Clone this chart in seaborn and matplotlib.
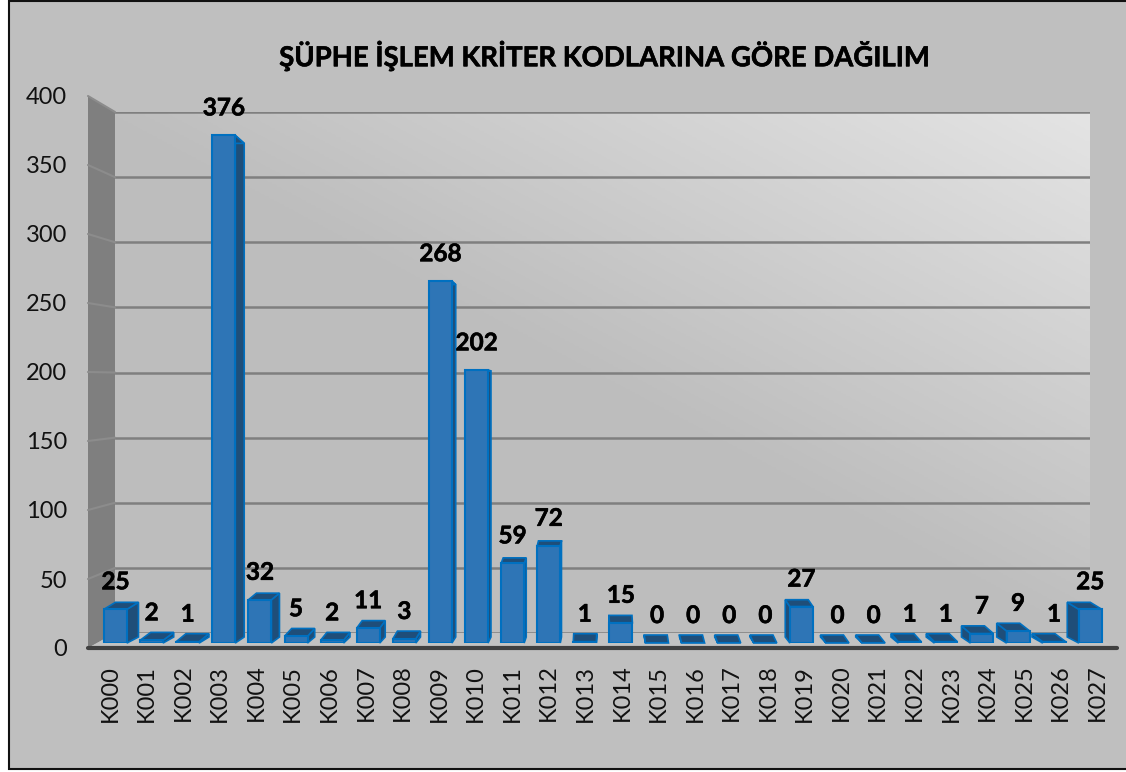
import numpy as np
import pandas as pd
import matplotlib
matplotlib.use("Agg")
import matplotlib.pyplot as plt
import matplotlib.patheffects as pe
import seaborn as sns
from matplotlib.patches import Polygon, Rectangle
from matplotlib.lines import Line2D

codes = ["K%03d" % i for i in range(28)]
counts = [25, 2, 1, 376, 32, 5, 2, 11, 3, 268, 202, 59, 72, 1, 15, 0, 0, 0, 0, 27, 0, 0, 1, 1, 7, 9, 1, 25]
y_ticks = [0, 50, 100, 150, 200, 250, 300, 350, 400]
title = "ŞÜPHE İŞLEM KRİTER KODLARINA GÖRE DAĞILIM"

W, H = 1126, 772

sns.set_theme(style="white")
plt.rcParams["font.family"] = ["Lato", "DejaVu Sans"]

FACE = "#2E75B6"
SIDE = "#1F4E79"
EDGE = "#0070C0"
INK = "#111111"
THICK = [pe.withStroke(linewidth=0.4, foreground="black")]


def box(left, top, right, bottom):
    # pixels from the top left of the image -> figure fractions
    return [left / W, 1 - bottom / H, (right - left) / W, (bottom - top) / H]


fig = plt.figure(figsize=(W / 100, H / 100), dpi=100, facecolor="white")

# chart frame, its right edge runs off the image
fig.add_artist(Rectangle((9 / W, 1 - 769 / H), 1130 / W, 768 / H, transform=fig.transFigure,
                         facecolor="#BFBFBF", edgecolor="#111111", linewidth=1.5))

# back wall, with the light corner at top right
wall = fig.add_axes(box(115, 112, 1090, 633), zorder=1)
xx, yy = np.meshgrid(np.linspace(0, 1, 200), np.linspace(0, 1, 200))
wall.imshow((xx + yy) / 2, extent=(0, 1, 0, 400), origin="lower", aspect="auto",
            cmap=matplotlib.colors.LinearSegmentedColormap.from_list("wall", ["#BDBDBD", "#BEBEBE", "#E4E4E4"]))
wall.set_ylim(0, 400)
wall.set_yticks(y_ticks)
wall.set_xticks([])
wall.set_yticklabels([])
wall.grid(axis="y", color="#7F7F7F", linewidth=1.8)
wall.tick_params(length=0)
sns.despine(ax=wall, left=True, bottom=True, right=True, top=True)

# front plane: only carries the axis labels
front = fig.add_axes(box(88, 96, 1117, 648), zorder=2)
front.patch.set_alpha(0)
front.set_ylim(0, 400)
front.set_xlim(-0.6, 27.54)
front.set_yticks(y_ticks)
front.set_xticks(range(len(codes)))
front.set_xticklabels(codes, rotation=90, fontsize=17, color=INK)
front.tick_params(axis="y", labelsize=17, labelcolor=INK, length=0, pad=15)
front.tick_params(axis="x", length=0, pad=12)
sns.despine(ax=front, left=True, bottom=True, right=True, top=True)


def to_fig(ax, x, y):
    return fig.transFigure.inverted().transform(ax.transData.transform((x, y)))


# side wall and floor between the front plane and the back wall
fl, fb = to_fig(front, -0.6, 0)
fr = to_fig(front, 27.54, 0)[0]
ft = to_fig(front, -0.6, 400)[1]
bl, bb = to_fig(wall, 0, 0)
br = to_fig(wall, 1, 0)[0]
bt = to_fig(wall, 0, 400)[1]
fig.add_artist(Polygon([(fl, fb), (fl, ft), (bl, bt), (bl, bb)], transform=fig.transFigure,
                       facecolor="#7F7F7F", edgecolor="none", zorder=1.5))
fig.add_artist(Polygon([(fl, fb), (bl, bb), (br, bb), (fr, fb)], transform=fig.transFigure,
                       facecolor="#C2C2C2", edgecolor="none", zorder=1.5))
for v in y_ticks[1:]:
    a = to_fig(front, -0.6, v)
    b = to_fig(wall, 0, v)
    fig.add_artist(Line2D([a[0], b[0]], [a[1], b[1]], color="#8C8C8C", linewidth=1.5, zorder=1.6))
fig.add_artist(Line2D([fl, fr], [fb, fb], color="#404040", linewidth=3, zorder=1.7))

# bars sit a bit behind the front plane, so 1.35 px per unit from y=643
px_x = 36.1
px_y = 540 / 400
ax = fig.add_axes(box(88, 103, 1117, 643), zorder=3)
ax.patch.set_alpha(0)
df = pd.DataFrame({"code": codes, "count": counts})
sns.barplot(data=df, x="code", y="count", color=FACE, saturation=1, width=23 / px_x,
            edgecolor=EDGE, linewidth=1.5, ax=ax, zorder=5)
ax.set_ylim(0, 400)
ax.set_xlim((88 - 115.5) / px_x, (1117 - 115.5) / px_x)
ax.set_xlabel("")
ax.set_ylabel("")
ax.set_xticks([])
ax.set_yticks([])
sns.despine(ax=ax, left=True, bottom=True, right=True, top=True)

# third dimension: offsets lean towards the middle of the chart,
# tall bars are above eye level so their back edge drops
for rect in ax.patches:
    x0, w, h = rect.get_x(), rect.get_width(), rect.get_height()
    mid = x0 + w / 2
    dx = 0.0235 * (13.5 - mid)
    dy = (8 - 0.0425 * h) / px_y
    near = x0 + w if dx > 0 else x0
    ax.add_patch(Polygon([(near, 0), (near, h), (near + dx, h + dy), (near + dx, 6 / px_y)],
                         facecolor=SIDE, edgecolor=EDGE, linewidth=1.2, zorder=3, clip_on=False))
    ax.add_patch(Polygon([(x0, h), (x0 + w, h), (x0 + w + dx, h + dy), (x0 + dx, h + dy)],
                         facecolor=SIDE, edgecolor=EDGE, linewidth=1.2, zorder=4, clip_on=False))

labels = ax.bar_label(ax.containers[0], labels=[str(c) for c in counts], padding=11.5, fontsize=17.5,
                      fontweight="bold", color="black", zorder=10)
for t in labels:
    t.set_path_effects(THICK)

fig.text(605 / W, 1 - 55.5 / H, title, ha="center", va="center", fontsize=19.8, fontweight="bold",
         color="black", zorder=10, path_effects=THICK)

fig.savefig("out.png", dpi=100, facecolor="white")
